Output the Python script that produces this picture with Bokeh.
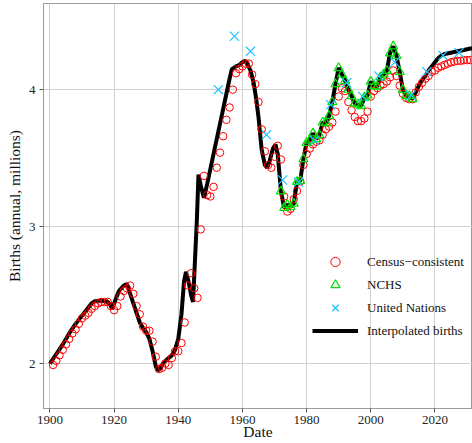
from bokeh.plotting import figure
from bokeh.models import Range1d, Legend, LegendItem, FixedTicker
from bokeh.embed import file_html
from bokeh.resources import INLINE

# ---------------- data ----------------
census_years = list(range(1901, 2032))
census_births = [
    1.99, 2.02, 2.06, 2.10, 2.14, 2.18, 2.22, 2.25, 2.29, 2.33,   # 1901-1910
    2.35, 2.37, 2.40, 2.42, 2.44, 2.45, 2.45, 2.45, 2.42, 2.39,   # 1911-1920
    2.42, 2.49, 2.53, 2.55, 2.57, 2.51, 2.42, 2.36, 2.27, 2.24,   # 1921-1930
    2.24, 2.16, 2.05, 1.96, 1.97, 2.00, 1.99, 2.04, 2.09, 2.09,   # 1931-1940
    2.15, 2.30, 2.57, 2.66, 2.55, 2.48, 2.98, 3.37, 3.23, 3.22,   # 1941-1950
    3.29, 3.43, 3.54, 3.66, 3.78, 3.87, 4.00, 4.12, 4.15, 4.17,   # 1951-1960
    4.19, 4.19, 4.11, 4.04, 3.91, 3.71, 3.55, 3.45, 3.43, 3.51,   # 1961-1970
    3.59, 3.49, 3.22, 3.11, 3.13, 3.20, 3.26, 3.33, 3.45, 3.53,   # 1971-1980
    3.57, 3.60, 3.62, 3.63, 3.67, 3.71, 3.73, 3.76, 3.84, 3.95,   # 1981-1990
    4.01, 3.99, 3.91, 3.85, 3.80, 3.77, 3.77, 3.79, 3.84, 3.95,   # 1991-2000
    3.99, 4.01, 4.03, 4.04, 4.06, 4.09, 4.14, 4.10, 4.03, 3.97,   # 2001-2010
    3.94, 3.93, 3.93, 3.98, 4.02, 4.05, 4.08, 4.10, 4.13, 4.14,   # 2011-2020
    4.16, 4.17, 4.18, 4.19, 4.20, 4.205, 4.21, 4.21, 4.215, 4.215, 4.216,  # 2021-2031
]

nchs_years = list(range(1972, 2014))
nchs_births = [
    3.258, 3.137, 3.160, 3.144, 3.168, 3.327, 3.333, 3.494, 3.612, 3.629,
    3.681, 3.639, 3.669, 3.761, 3.757, 3.809, 3.910, 4.041, 4.158, 4.111,
    4.065, 4.000, 3.953, 3.900, 3.891, 3.881, 3.942, 3.959, 4.059, 4.026,
    4.022, 4.090, 4.112, 4.138, 4.266, 4.316, 4.248, 4.131, 3.999, 3.954,
    3.953, 3.932,
]

un_years = [1952.5, 1957.5, 1962.5, 1967.5, 1972.5, 1977.5, 1982.5, 1987.5,
            1992.5, 1997.5, 2002.5, 2007.5, 2012.5, 2017.5, 2022.5, 2027.5]
un_births = [4.00, 4.39, 4.28, 3.67, 3.34, 3.325, 3.63, 3.89,
             4.05, 3.95, 4.10, 4.20, 3.96, 4.13, 4.25, 4.27]

interp_years = [
    1900, 1902, 1904, 1906, 1908, 1910, 1912, 1913, 1914, 1916, 1918, 1918.8,
    1919.4, 1920.5, 1921.5, 1923, 1924, 1925, 1926, 1927, 1928, 1929, 1930,
    1931, 1932, 1933, 1933.6, 1934.5, 1935.5, 1937, 1938, 1939, 1940, 1941,
    1941.8, 1942.4, 1943.2, 1944, 1944.6, 1945.2, 1945.8, 1946.3, 1947, 1948,
    1949, 1950, 1951, 1952, 1953, 1954, 1955, 1956, 1956.7, 1958, 1959, 1960,
    1960.8, 1961.5, 1962.5, 1963.5, 1964.3, 1965, 1966, 1967, 1967.7, 1968.5,
    1969.5, 1970.3, 1971,
] + nchs_years + [
    2014, 2015, 2016, 2017, 2018, 2019, 2020, 2021, 2022, 2023, 2025, 2027,
    2029, 2031, 2033,
]
interp_births = [
    2.00, 2.07, 2.14, 2.22, 2.29, 2.35, 2.41, 2.44, 2.455, 2.46, 2.45, 2.43,
    2.40, 2.47, 2.53, 2.57, 2.58, 2.51, 2.44, 2.37, 2.30, 2.26, 2.23,
    2.18, 2.09, 1.98, 1.95, 1.97, 2.01, 2.04, 2.06, 2.10, 2.18, 2.36,
    2.60, 2.67, 2.60, 2.50, 2.45, 2.75, 3.05, 3.38, 3.30, 3.21,
    3.31, 3.42, 3.53, 3.64, 3.75, 3.86, 3.97, 4.08, 4.15, 4.17, 4.18, 4.20,
    4.21, 4.19, 4.14, 4.05, 3.93, 3.80, 3.56, 3.45, 3.43, 3.48,
    3.57, 3.60, 3.53,
] + nchs_births + [
    3.98, 4.03, 4.07, 4.10, 4.14, 4.17, 4.20, 4.23, 4.25, 4.26, 4.27, 4.28,
    4.29, 4.30, 4.30,
]

x_ticks = [1900, 1920, 1940, 1960, 1980, 2000, 2020]
y_ticks = [2, 3, 4]

# ---------------- figure ----------------
FONT = "Liberation Serif"

p = figure(width=472, height=443, output_backend="svg", toolbar_location=None,
           x_range=Range1d(1898.0, 2031.7), y_range=Range1d(1.672, 4.629),
           min_border_left=43, min_border_right=0, min_border_top=3,
           min_border_bottom=35, background_fill_color="white",
           border_fill_color="white")

p.outline_line_color = "#9a9a9a"
p.outline_line_width = 1

for ax in (p.xaxis[0], p.yaxis[0]):
    ax.axis_line_color = "#9a9a9a"
    ax.major_tick_line_color = "#555555"
    ax.major_tick_in = 0
    ax.major_tick_out = 4
    ax.minor_tick_line_color = None
    ax.major_label_text_font = FONT
    ax.major_label_text_font_size = "13px"
    ax.major_label_text_color = "#222222"
    ax.axis_label_text_font = FONT
    ax.axis_label_text_font_size = "15.5px"
    ax.axis_label_text_font_style = "normal"
    ax.axis_label_text_color = "#111111"

p.xaxis.ticker = FixedTicker(ticks=x_ticks)
p.yaxis.ticker = FixedTicker(ticks=y_ticks)
p.xaxis.axis_label = "Date"
p.yaxis.axis_label = "Births (annual, millions)"
p.xaxis.major_label_standoff = 3
p.xaxis.axis_label_standoff = -4
p.yaxis.major_label_standoff = 4
p.yaxis.axis_label_standoff = 3

p.xgrid.ticker = FixedTicker(ticks=x_ticks)
p.ygrid.ticker = FixedTicker(ticks=y_ticks)
p.grid.grid_line_color = "#d0d0d0"
p.grid.grid_line_width = 1

r_line = p.line(interp_years, interp_births, line_color="black", line_width=4)
r_census = p.scatter(census_years, census_births, marker="circle", size=7.5,
                     fill_color=None, line_color="#ff0000", line_width=1)
r_nchs = p.scatter(nchs_years, nchs_births, marker="triangle", size=9,
                   fill_color=None, line_color="#00e000", line_width=1.2)
r_un = p.scatter(un_years, un_births, marker="x", size=13,
                 line_color="#1ec3ff", line_width=1.2)

legend = Legend(items=[
    LegendItem(label="Census\u2212consistent", renderers=[r_census]),
    LegendItem(label="NCHS", renderers=[r_nchs]),
    LegendItem(label="United Nations", renderers=[r_un]),
    LegendItem(label="Interpolated births", renderers=[r_line]),
], location=(269, 66), glyph_width=46, glyph_height=23, label_height=20,
    spacing=0, padding=0, margin=0, label_standoff=9,
    border_line_color=None, background_fill_alpha=0,
    label_text_font=FONT, label_text_font_size="13px",
    label_text_color="#111111")
p.add_layout(legend)

open("out.html", "w").write(file_html(p, INLINE))
